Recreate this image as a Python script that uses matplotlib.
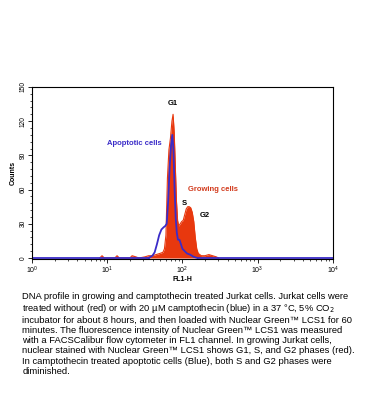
import numpy as np
import matplotlib.pyplot as plt
from matplotlib.ticker import FixedLocator, NullFormatter

plt.rcParams["font.family"] = ["Liberation Sans", "DejaVu Sans"]

# log10(FL1-H) channel positions and counts
red_x = [0.90, 0.93, 0.96, 1.10, 1.13, 1.16, 1.30, 1.33, 1.38, 1.42, 1.50, 1.55, 1.60,
         1.65, 1.70, 1.74, 1.76, 1.78, 1.79, 1.80, 1.82, 1.84, 1.86, 1.875, 1.89,
         1.905, 1.92, 1.935, 1.95, 1.97, 1.99, 2.01, 2.03, 2.05, 2.07, 2.09, 2.11,
         2.13, 2.15, 2.17, 2.19, 2.21, 2.25, 2.30, 2.35, 2.40, 2.45, 2.48]
red_y = [0, 2, 0, 0, 2, 0, 0, 2, 1, 0, 1, 2, 2,
         3, 4, 5, 8, 20, 45, 70, 95, 105, 120, 126, 110,
         80, 50, 33, 28, 30, 32, 33, 38, 43, 45, 45, 44,
         40, 32, 18, 8, 4, 2, 2, 3, 2, 1, 0]

blue_x = [1.55, 1.60, 1.63, 1.66, 1.69, 1.72, 1.75, 1.77, 1.79, 1.81, 1.83, 1.85,
          1.865, 1.88, 1.895, 1.91, 1.925, 1.94, 1.96, 1.98, 2.00, 2.03, 2.06,
          2.10, 2.15, 2.20]
blue_y = [0, 2, 5, 12, 20, 25, 27, 28, 30, 50, 80, 100,
          108, 95, 60, 35, 22, 16, 16, 12, 8, 6, 4,
          3, 1, 0]

RED = "#e8380e"
BLUE = "#3a2cc8"

caption = (
    "DNA profile in growing and camptothecin treated Jurkat cells. Jurkat cells were\n"
    "treated without (red) or with 20 \u00b5M camptothecin (blue) in a 37 \u00b0C, 5% CO$_2$\n"
    "incubator for about 8 hours, and then loaded with Nuclear Green\u2122 LCS1 for 60\n"
    "minutes. The fluorescence intensity of Nuclear Green\u2122 LCS1 was measured\n"
    "with a FACSCalibur flow cytometer in FL1 channel. In growing Jurkat cells,\n"
    "nuclear stained with Nuclear Green\u2122 LCS1 shows G1, S, and G2 phases (red).\n"
    "In camptothecin treated apoptotic cells (Blue), both S and G2 phases were\n"
    "diminished."
)

fig = plt.figure(figsize=(3.69, 4.2), dpi=100)
ax = fig.add_axes([0.087, 0.383, 0.815, 0.41])

rx = 10 ** np.array(red_x)
bx = 10 ** np.array(blue_x)
ax.fill_between(rx, red_y, 0, color=RED, lw=0)
ax.plot(rx, red_y, color=RED, lw=0.8)
ax.plot(bx, blue_y, color=BLUE, lw=1.3)
ax.plot([1, 10 ** 1.55], [0, 0], color=BLUE, lw=1.3)
ax.plot([10 ** 2.2, 1e4], [0, 0], color=BLUE, lw=1.3)

ax.set_xscale("log")
ax.set_xlim(1, 1e4)
ax.set_ylim(-1, 150)

ax.yaxis.set_major_locator(FixedLocator([0, 30, 60, 90, 120, 150]))
ax.yaxis.set_minor_locator(FixedLocator(np.arange(0, 151, 6)))
ax.tick_params(axis="y", which="major", labelsize=4.8, length=3, width=0.6, pad=1)
ax.tick_params(axis="y", which="minor", length=1.5, width=0.5)
for t in ax.get_yticklabels():
    t.set_rotation(90)
    t.set_va("center")
ax.tick_params(axis="x", which="major", labelsize=5, length=3, width=0.6, pad=1)
ax.tick_params(axis="x", which="minor", length=1.5, width=0.5)
ax.xaxis.set_minor_formatter(NullFormatter())
for s in ax.spines.values():
    s.set_linewidth(0.8)

ax.set_xlabel("FL1-H", fontsize=5, fontweight="bold", labelpad=0)
ax.set_ylabel("Counts", fontsize=5, fontweight="bold", labelpad=2)

ax.text(10 ** 1.87, 134, "G1", fontsize=5.5, fontweight="bold", ha="center")
ax.text(10 ** 0.99, 100, "Apoptotic cells", fontsize=5.5, fontweight="bold",
        color=BLUE, va="center")
ax.text(10 ** 2.07, 60, "Growing cells", fontsize=5.5, fontweight="bold",
        color="#d23a1c", va="center")
ax.text(10 ** 1.99, 48, "S", fontsize=5.5, fontweight="bold", va="center")
ax.text(10 ** 2.23, 37, "G2", fontsize=5.5, fontweight="bold", va="center")

fig.text(0.06, 0.305, caption, fontsize=6.75, va="top", ha="left", linespacing=1.15)

fig.savefig("out.png", dpi=100)
